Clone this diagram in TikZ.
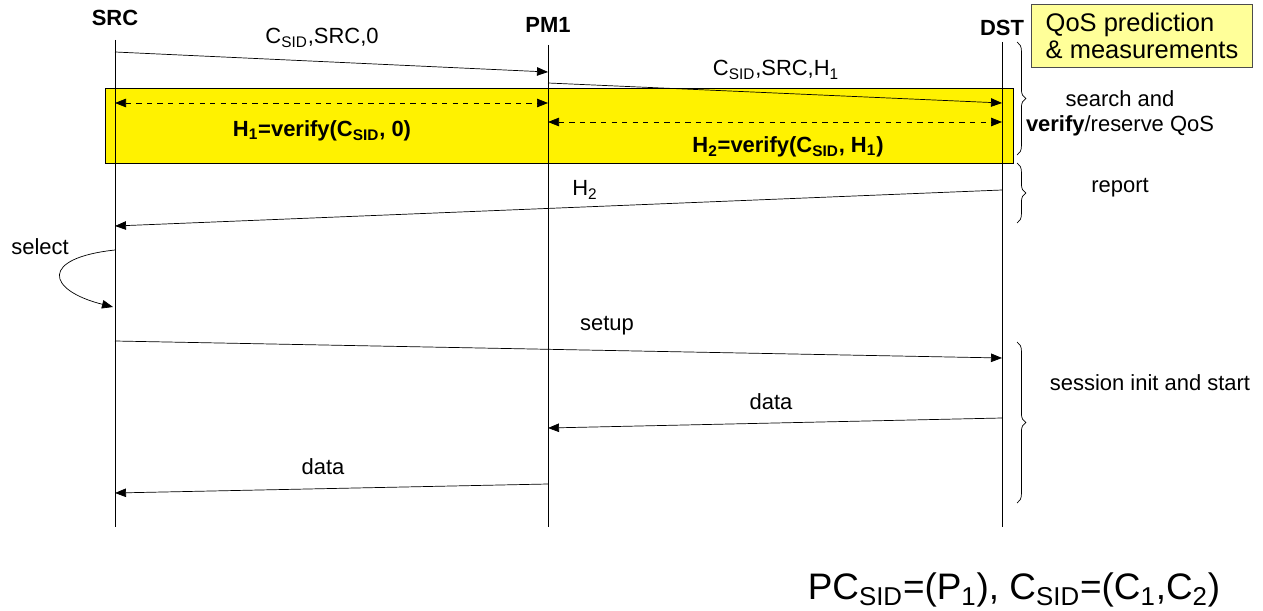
\documentclass[tikz,border=0pt]{standalone}
\usepackage{fontspec}
\setmainfont{Liberation Sans}
\usepackage{xcolor}
\usetikzlibrary{positioning,arrows.meta,decorations.pathreplacing}
\definecolor{qosbg}{HTML}{FFFF99}

\begin{document}
\begin{tikzpicture}[x=0.02cm,y=-0.02cm,>={Triangle[length=2.2mm,width=1.7mm]},
  ent/.style={font=\bfseries\fontsize{12.5}{14}\selectfont},
  lbl/.style={font=\fontsize{12.5}{14.4}\selectfont},
  vlbl/.style={font=\bfseries\fontsize{12.5}{14}\selectfont},
  brc/.style={decorate,decoration={brace,amplitude=5pt}}]
\useasboundingbox (0,0) rectangle (1263,611);

% verification band
\draw[fill=yellow] (105,88) rectangle (1013,163);

% entities and lifelines
\node[ent] (src) at (115,18) {SRC};
\node[ent] (pm) at (548,25) {PM1};
\node[ent] (dst) at (1002,28) {DST};
\coordinate (srcT) at (115,40);  \coordinate (srcE) at (115,527);
\coordinate (pmT) at (548,45);   \coordinate (pmE) at (548,527);
\coordinate (dstT) at (1002,42); \coordinate (dstE) at (1002,527);
\draw (srcT) -- (srcE);
\draw (pmT) -- (pmE);
\draw (dstT) -- (dstE);

% search and verify
\coordinate (s1) at (115,52);  \coordinate (p1) at (548,72);
\coordinate (p2) at (548,83);  \coordinate (d2) at (1002,103);
\draw[->] (s1) -- (p1);
\draw[->] (p2) -- (d2);
\node[lbl] (m1) at (322,38) {C\textsubscript{SID},SRC,0};
\node[lbl] (m2) at (776,70) {C\textsubscript{SID},SRC,H\textsubscript{1}};

\coordinate (s3) at (115,103); \coordinate (p3) at (548,103);
\coordinate (p4) at (548,122); \coordinate (d4) at (1002,122);
\draw[<->,dashed] (s3) -- (p3);
\draw[<->,dashed] (p4) -- (d4);
\node[vlbl] (v1) at (322,131) {H\textsubscript{1}=verify(C\textsubscript{SID}, 0)};
\node[vlbl] (v2) at (788,147) {H\textsubscript{2}=verify(C\textsubscript{SID}, H\textsubscript{1})};

% report
\coordinate (d5) at (1002,190); \coordinate (s5) at (115,226);
\draw[->] (d5) -- (s5);
\node[lbl] (m5) at (585,190) {H\textsubscript{2}};

% select
\coordinate (s6) at (115,250); \coordinate (s7) at (113,307);
\draw[->] (s6) .. controls (40,258) and (46,290) .. (s7);
\node[lbl] (sel) at (40,247) {select};

% session
\coordinate (s8) at (115,341);  \coordinate (d8) at (1002,358);
\coordinate (d9) at (1002,418); \coordinate (p9) at (548,428);
\coordinate (p10) at (548,484); \coordinate (s10) at (115,493);
\draw[->] (s8) -- (d8);
\draw[->] (d9) -- (p9);
\draw[->] (p10) -- (s10);
\node[lbl] (m8) at (607,326) {setup};
\node[lbl] (m9) at (771,402) {data};
\node[lbl] (m10) at (323,467) {data};

% phases
\draw[brc] (1017,42) -- (1017,155);
\draw[brc] (1017,163) -- (1017,223);
\draw[brc] (1017,342) -- (1017,503);
\node[lbl,align=center] (ph1) at (1120,113) {search and\\\textbf{verify}/reserve QoS};
\node[lbl] (ph2) at (1120,188) {report};
\node[lbl] (ph3) at (1150,383) {session init and start};

\node[draw=black!70,fill=qosbg,align=left,minimum width=4.42cm,minimum height=1.26cm,
  font=\fontsize{14.5}{15.5}\selectfont] (qos) at (1142,36) {QoS prediction\\\& measurements};

\node[font=\fontsize{21}{24}\selectfont] (pc) at (1014,590)
  {PC\textsubscript{SID}=(P\textsubscript{1}), C\textsubscript{SID}=(C\textsubscript{1},C\textsubscript{2})};
\end{tikzpicture}
\end{document}
